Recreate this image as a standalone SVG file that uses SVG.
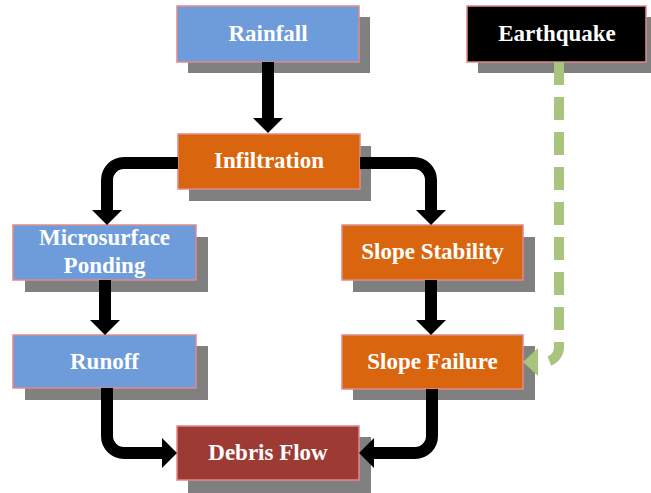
<svg xmlns="http://www.w3.org/2000/svg" width="651" height="493" viewBox="0 0 651 493">
<style>
.box{stroke:#e08a8a;stroke-width:1.5}
.blue{fill:#6e9bd9}
.orange{fill:#d9660e}
.red{fill:#9c3a33}
.black{fill:#000000}
.sh{fill:#808080}
.t{font-family:"Liberation Serif","Times New Roman",serif;font-weight:bold;font-size:23px;fill:#ffffff;text-anchor:middle}
.arr{fill:none;stroke:#000000;stroke-width:12}
.eq{fill:none;stroke:#a9c47d;stroke-width:10;stroke-dasharray:23 12}
</style>
<defs>
<marker id="ah" viewBox="0 0 15 30" refX="0" refY="15" markerWidth="15" markerHeight="30" markerUnits="userSpaceOnUse" orient="auto">
<path d="M0,0 L15,15 L0,30 Z" fill="#000000"/>
</marker>
</defs>
<rect width="651" height="493" fill="#ffffff"/>
<g id="rainfall">
<rect class="sh" x="188" y="17" width="182" height="56"/>
<rect class="box blue" x="177" y="6" width="182" height="56"/>
<text class="t" x="268" y="41">Rainfall</text>
</g>
<g id="earthquake">
<rect class="sh" x="478" y="17" width="179" height="56"/>
<rect class="box black" x="467" y="6" width="179" height="56"/>
<text class="t" x="557" y="41">Earthquake</text>
</g>
<g id="infiltration">
<rect class="sh" x="189" y="146" width="182" height="55"/>
<rect class="box orange" x="178" y="134" width="182" height="55"/>
<text class="t" x="269" y="168">Infiltration</text>
</g>
<g id="microsurface">
<rect class="sh" x="25" y="237" width="183" height="55"/>
<rect class="box blue" x="13" y="225" width="183" height="55"/>
<text class="t" x="104.5" y="245">Microsurface</text>
<text class="t" x="104.5" y="273">Ponding</text>
</g>
<g id="slope-stability">
<rect class="sh" x="353" y="237" width="182" height="55"/>
<rect class="box orange" x="342" y="225" width="181" height="55"/>
<text class="t" x="432.5" y="259">Slope Stability</text>
</g>
<g id="runoff">
<rect class="sh" x="25" y="346" width="183" height="54"/>
<rect class="box blue" x="13" y="335" width="183" height="53"/>
<text class="t" x="104.5" y="369">Runoff</text>
</g>
<g id="slope-failure">
<rect class="sh" x="353" y="346" width="182" height="54"/>
<rect class="box orange" x="342" y="335" width="181" height="54"/>
<text class="t" x="432.5" y="369">Slope Failure</text>
</g>
<g id="debris-flow">
<rect class="sh" x="188" y="437" width="183" height="56"/>
<rect class="box red" x="177" y="426" width="182" height="54"/>
<text class="t" x="268" y="460">Debris Flow</text>
</g>
<g id="connectors">
<path class="arr" d="M268,62 V118" marker-end="url(#ah)"/>
<path class="arr" d="M178,163 H124 A17,17 0 0 0 107,180 V210" marker-end="url(#ah)"/>
<path class="arr" d="M360,163 H414 A17,17 0 0 1 431,180 V210" marker-end="url(#ah)"/>
<path class="arr" d="M105,280 V320" marker-end="url(#ah)"/>
<path class="arr" d="M431,280 V320" marker-end="url(#ah)"/>
<path class="arr" d="M107,388 V436 A17,17 0 0 0 124,453 H162" marker-end="url(#ah)"/>
<path class="arr" d="M432,389 V436 A17,17 0 0 1 415,453 H374" marker-end="url(#ah)"/>
<path class="eq" d="M559,62 V347 A15,15 0 0 1 544,362 H541"/>
<polygon points="523,362 538,348 538,376" fill="#a9c47d"/>
</g>
</svg>
